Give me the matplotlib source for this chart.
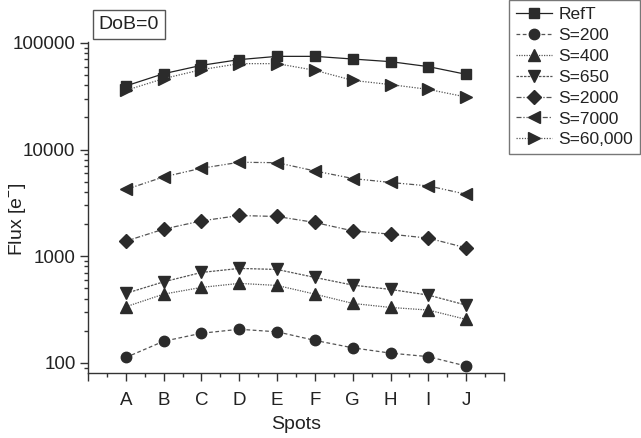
import matplotlib
matplotlib.use("Agg")
import matplotlib.pyplot as plt
from matplotlib.ticker import FixedLocator, NullFormatter, LogLocator

plt.rcParams['font.family'] = ['Liberation Sans', 'DejaVu Sans']
plt.rcParams['mathtext.fontset'] = 'custom'
plt.rcParams['mathtext.rm'] = 'Liberation Sans'

spots = ["A", "B", "C", "D", "E", "F", "G", "H", "I", "J"]

ref_t = [39500, 51500, 61700, 69800, 74900, 74900, 70700, 66800, 60000, 50800]
s_200 = [112, 159, 189, 206, 195, 162, 138, 123, 114, 93]
s_400 = [335, 440, 509, 555, 531, 440, 360, 330, 312, 255]
s_650 = [447, 574, 703, 767, 750, 631, 535, 487, 431, 347]
s_2000 = [1383, 1791, 2142, 2406, 2355, 2069, 1726, 1607, 1475, 1196]
s_7000 = [4220, 5540, 6680, 7600, 7530, 6300, 5350, 4910, 4560, 3810]
s_60000 = [35900, 46300, 56200, 64000, 64000, 55400, 44600, 40700, 36700, 31100]

series = [
    ("RefT", ref_t, "s", "-"),
    ("S=200", s_200, "o", (0, (3, 2))),
    ("S=400", s_400, "^", (0, (1, 1))),
    ("S=650", s_650, "v", (0, (2, 1))),
    ("S=2000", s_2000, "D", (0, (4, 1.5, 1, 1.5))),
    ("S=7000", s_7000, "<", (0, (4, 1.5, 1, 1.5, 1, 1.5))),
    ("S=60,000", s_60000, ">", (0, (1, 1.2))),
]

fig = plt.figure(figsize=(6.41, 4.38), dpi=100)
ax = fig.add_axes([88 / 641, 1 - 372.7 / 438, (504 - 88) / 641, (372.7 - 41.7) / 438])

x = list(range(len(spots)))
marker_sizes = {"s": 7, "o": 7.5, "^": 9, "v": 9, "D": 7.5, "<": 9, ">": 9}
handles = []
for name, vals, mk, ls in series:
    lc = "#222222" if name == "RefT" else "#555555"
    h, = ax.plot(x, vals, linestyle=ls, color=lc, linewidth=0.9,
                 marker=mk, markersize=marker_sizes[mk],
                 markerfacecolor="#2b2b2b", markeredgecolor="#2b2b2b",
                 label=name)
    handles.append(h)

ax.set_yscale("log")
ax.set_xlim(-1, 10)
ax.set_ylim(80.6, 102800)

ax.xaxis.set_major_locator(FixedLocator(list(range(-1, 11))))
ax.xaxis.set_minor_locator(FixedLocator([i + 0.5 for i in range(-1, 10)]))
ax.set_xticklabels([""] + spots + [""])

ax.yaxis.set_major_locator(FixedLocator([100, 1000, 10000, 100000]))
ax.set_yticklabels(["100", "1000", "10000", "100000"])
ax.yaxis.set_minor_locator(LogLocator(base=10, subs=range(2, 10)))
ax.yaxis.set_minor_formatter(NullFormatter())

for side in ("top", "right"):
    ax.spines[side].set_visible(False)
for side in ("left", "bottom"):
    ax.spines[side].set_color("#333333")
    ax.spines[side].set_linewidth(1.0)

ax.tick_params(axis="both", which="major", direction="out", length=6,
               width=1.0, colors="#333333", labelsize=13.5, labelcolor="#222222")
ax.tick_params(axis="both", which="minor", direction="out", length=3,
               width=1.0, colors="#333333")
ax.tick_params(axis="x", pad=8)
ax.tick_params(axis="y", pad=3)

ax.set_xlabel("Spots", fontsize=14, color="#222222", labelpad=5)
fig.text(18 / 641, 1 - 219 / 438, "Flux [e$^{-}$]", fontsize=14,
         color="#222222", rotation=90, ha="center", va="center")

fig.text(129 / 641, 1 - 24.5 / 438, "DoB=0", fontsize=14, color="#222222",
         ha="center", va="center",
         bbox=dict(boxstyle="square,pad=0.3", facecolor="white",
                   edgecolor="#555555", linewidth=1.0))

leg = fig.legend(handles=handles, loc="upper right",
                 bbox_to_anchor=(640 / 641, 1.0), frameon=True,
                 fancybox=False, fontsize=12.5, handlelength=2.1,
                 handletextpad=0.35, labelspacing=0.33, borderpad=0.4,
                 borderaxespad=0.0)
leg.get_frame().set_edgecolor("#555555")
leg.get_frame().set_linewidth(1.0)
for t in leg.get_texts():
    t.set_color("#222222")

fig.savefig("out.png", dpi=100)
